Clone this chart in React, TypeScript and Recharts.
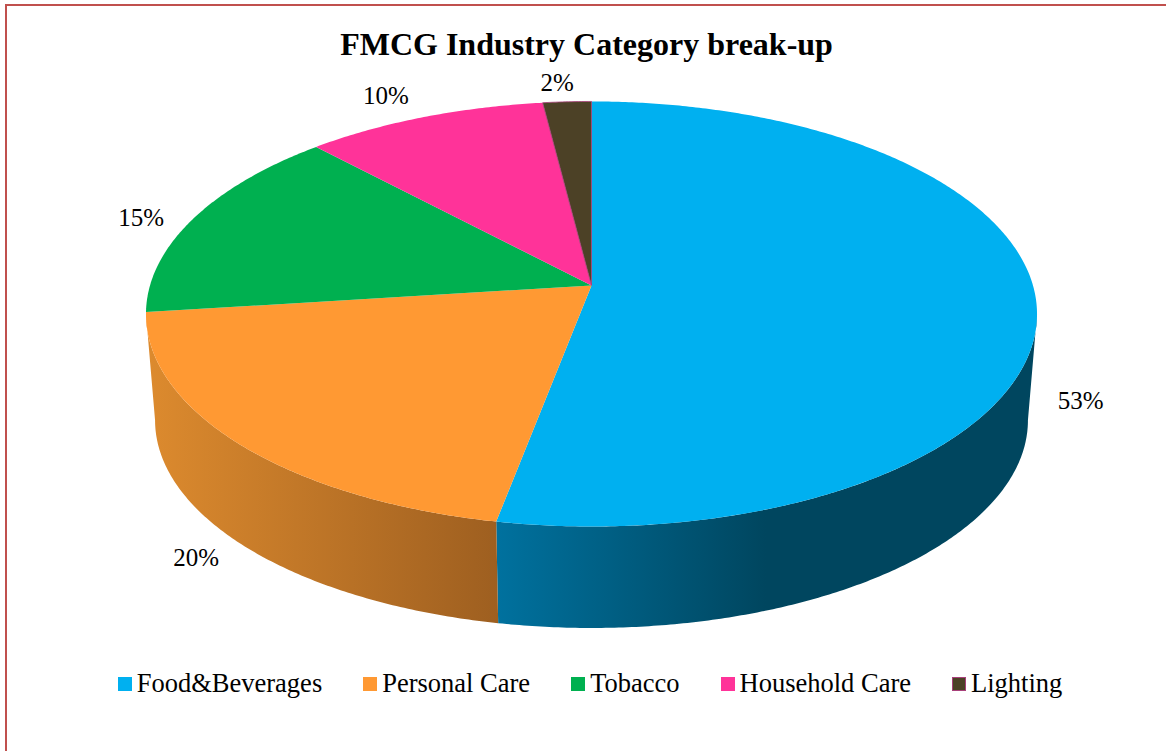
import { PieChart, Pie, Legend } from "recharts";

const categories = ["Food&Beverages", "Personal Care", "Tobacco", "Household Care", "Lighting"];
const shares = [53, 20, 15, 10, 2];
const colors = ["#00B0F0", "#FF9933", "#00B050", "#FF3399", "#4C4126"];
const data = categories.map((name, i) => ({ name, value: shares[i], fill: colors[i] }));

// nudges of each % label away from the rim, the pie is tilted so they are not radial
const labelNudge = [
  [44, 95],
  [-41, 115],
  [-53, 0],
  [-38, -22],
  [-10, -19],
];

const FONT = '"Liberation Serif", "Times New Roman", serif';
const CX = 591.5;
const CY = 285.5;
const TILT = 0.134;
// lower rim of the disc
const BOTTOM_CY = 392.4;
const TOP_RX = 441.5;
const TOP_RY = 208.7;
const BOTTOM_RX = 432.5;
const BOTTOM_RY = 204;
// the range of the rim where the side wall faces the viewer
const WALL_FROM = 97.7;
const WALL_TO = 262.3;

// perspective view of a point on the circle, theta clockwise from the far side
function project(theta: number, cy: number, rx: number, ry: number) {
  const rad = (theta * Math.PI) / 180;
  const u = Math.sin(rad);
  const v = Math.cos(rad);
  const d = 1 + TILT * v;
  return [CX + (rx * u) / d, cy - (ry * v) / d];
}

function arcPoints(from: number, to: number, cy: number, rx: number, ry: number) {
  const n = Math.max(2, Math.ceil(Math.abs(to - from) * 2));
  const pts: number[][] = [];
  for (let i = 0; i <= n; i++) pts.push(project(from + ((to - from) * i) / n, cy, rx, ry));
  return pts;
}

const toPath = (pts: number[][]) =>
  "M" + pts.map((p) => `${p[0].toFixed(2)},${p[1].toFixed(2)}`).join("L") + "Z";

function Slice3D(props: any) {
  const { startAngle, endAngle, fill, index } = props;
  const from = 90 - startAngle;
  const to = 90 - endAngle;
  const top = [[CX, CY], ...arcPoints(from, to, CY, TOP_RX, TOP_RY)];

  const wallFrom = Math.max(from, WALL_FROM);
  const wallTo = Math.min(to, WALL_TO);
  const hasWall = wallTo > wallFrom;
  const wall = hasWall
    ? [
        ...arcPoints(wallFrom, wallTo, CY, TOP_RX, TOP_RY),
        ...arcPoints(wallTo, wallFrom, BOTTOM_CY, BOTTOM_RX, BOTTOM_RY),
      ]
    : [];

  return (
    <g>
      {hasWall && <path d={toPath(wall)} fill={`url(#wall${index})`} />}
      <path
        d={toPath(top)}
        fill={fill}
        stroke={index === 4 ? "#A8407A" : "none"}
        strokeWidth={index === 4 ? 0.8 : 0}
      />
    </g>
  );
}

function SliceLabel(props: any) {
  const { midAngle, index, value } = props;
  const [x, y] = project(90 - midAngle, CY, TOP_RX, TOP_RY);
  return (
    <text
      x={x + labelNudge[index][0]}
      y={y + labelNudge[index][1]}
      textAnchor="middle"
      dominantBaseline="central"
      fontFamily={FONT}
      fontSize={25}
      fill="#000"
    >
      {`${value}%`}
    </text>
  );
}

function LegendRow({ payload }: any) {
  return (
    <div style={{ display: "flex", justifyContent: "center", gap: 41, fontFamily: FONT, fontSize: 26.5, color: "#000" }}>
      {(payload || []).map((item: any, i: number) => (
        <div key={item.value} style={{ display: "flex", alignItems: "center", gap: 5 }}>
          <span
            style={{
              width: 14,
              height: 14,
              boxSizing: "border-box",
              background: colors[i],
              border: i === 4 ? "1px solid #A8407A" : "none",
            }}
          />
          <span>{item.value}</span>
        </div>
      ))}
    </div>
  );
}

export default function App() {
  return (
    <div style={{ position: "absolute", left: 0, top: 0, width: 1166, height: 751, background: "#fff" }}>
      <div
        style={{
          position: "absolute",
          left: 5,
          top: 4,
          right: 0,
          bottom: 0,
          borderLeft: "2px solid #C0504D",
          borderTop: "2px solid #C0504D",
        }}
      />
      <PieChart width={1166} height={751} margin={{ top: 0, right: 0, bottom: 0, left: 0 }}>
        <defs>
          <linearGradient id="wall0" gradientUnits="userSpaceOnUse" x1={498} y1={0} x2={766} y2={0}>
            <stop offset="0" stopColor="#00719E" />
            <stop offset="1" stopColor="#00465F" />
          </linearGradient>
          <linearGradient id="wall1" gradientUnits="userSpaceOnUse" x1={150} y1={0} x2={498} y2={0}>
            <stop offset="0" stopColor="#DC8A2E" />
            <stop offset="1" stopColor="#9E5F20" />
          </linearGradient>
        </defs>
        <text x={586.5} y={44} textAnchor="middle" dominantBaseline="central" fontFamily={FONT} fontSize={32} fontWeight="bold" fill="#000">
          FMCG Industry Category break-up
        </text>
        <Pie
          data={data}
          dataKey="value"
          nameKey="name"
          cx={CX}
          cy={CY}
          outerRadius={200}
          startAngle={90}
          endAngle={-270}
          stroke="none"
          shape={Slice3D}
          label={SliceLabel}
          labelLine={false}
          isAnimationActive={false}
        />
        <Legend content={LegendRow} itemSorter={null} wrapperStyle={{ left: 7, top: 668, width: 1166 }} />
      </PieChart>
    </div>
  );
}
